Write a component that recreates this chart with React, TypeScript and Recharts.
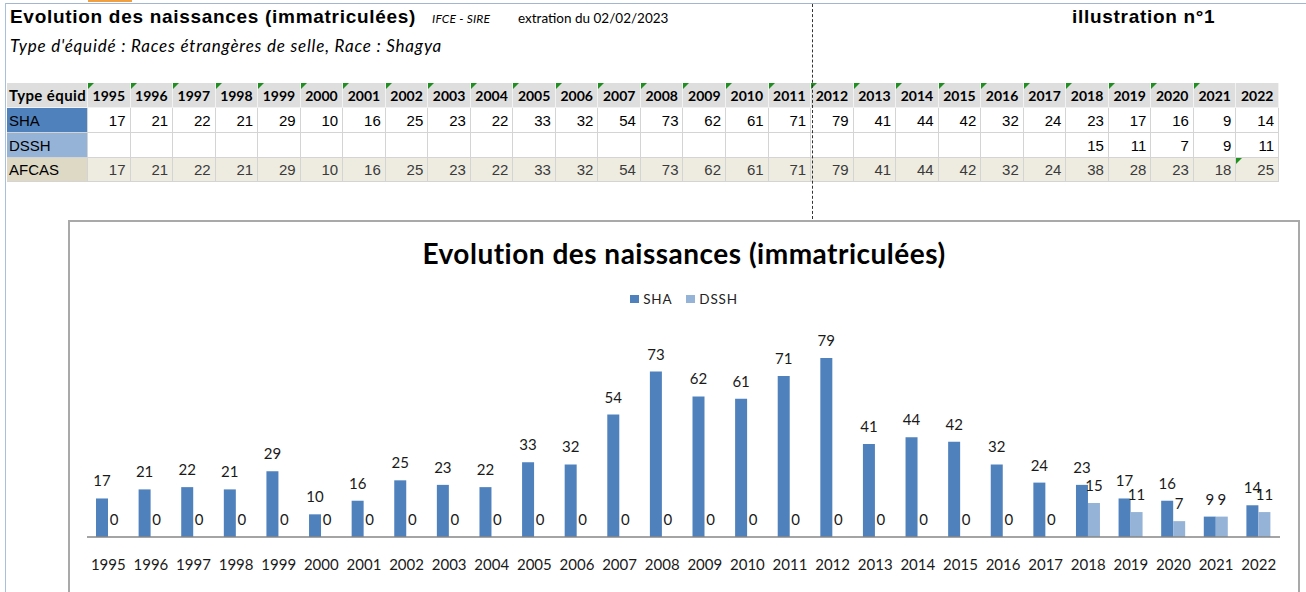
import React from "react";
import { BarChart, Bar, XAxis, YAxis, LabelList } from "recharts";

const years = [
  "1995", "1996", "1997", "1998", "1999", "2000", "2001", "2002", "2003", "2004",
  "2005", "2006", "2007", "2008", "2009", "2010", "2011", "2012", "2013", "2014",
  "2015", "2016", "2017", "2018", "2019", "2020", "2021", "2022",
];
const sha = [17, 21, 22, 21, 29, 10, 16, 25, 23, 22, 33, 32, 54, 73, 62, 61, 71, 79, 41, 44, 42, 32, 24, 23, 17, 16, 9, 14];
const dssh: (number | null)[] = [
  null, null, null, null, null, null, null, null, null, null, null, null, null, null,
  null, null, null, null, null, null, null, null, null, 15, 11, 7, 9, 11,
];
const afcas = [17, 21, 22, 21, 29, 10, 16, 25, 23, 22, 33, 32, 54, 73, 62, 61, 71, 79, 41, 44, 42, 32, 24, 38, 28, 23, 18, 25];

const SHA_COLOR = "#4f81bd";
const DSSH_COLOR = "#95b3d7";
const AFCAS_COLOR = "#ddd9c4";

// dans le graphique les cases vides de DSSH valent 0
const chartData = years.map((y, i) => ({ year: y, SHA: sha[i], DSSH: dssh[i] ?? 0 }));

const calibri = "Lato, 'Open Sans', sans-serif";
const arial = "'Liberation Sans', Arial, sans-serif";

const Flag = () => (
  <div
    style={{
      position: "absolute",
      left: 0,
      top: 0,
      width: 0,
      height: 0,
      borderTop: "6px solid #1f8f1f",
      borderRight: "6px solid transparent",
    }}
  />
);

const DataTable = () => {
  const rows = [
    { name: "SHA", bg: SHA_COLOR, values: sha as (number | null)[], cellBg: "#fff", color: "#000" },
    { name: "DSSH", bg: DSSH_COLOR, values: dssh, cellBg: "#fff", color: "#000" },
    { name: "AFCAS", bg: AFCAS_COLOR, values: afcas as (number | null)[], cellBg: "#eeece1", color: "#3a3a3a" },
  ];
  const grid = {
    display: "grid",
    gridTemplateColumns: "81px repeat(28, 1fr)",
  } as React.CSSProperties;
  const cell: React.CSSProperties = {
    position: "relative",
    boxSizing: "border-box",
    borderRight: "1px solid #d4d4d4",
    borderBottom: "1px solid #d4d4d4",
    display: "flex",
    alignItems: "center",
    overflow: "hidden",
    whiteSpace: "nowrap",
  };
  return (
    <div style={{ position: "absolute", left: 7, top: 83, width: 1272 }}>
      <div style={{ ...grid, height: 25, background: "#dedede" }}>
        <div style={{ ...cell, borderRight: "1px solid #f2f2f2", borderBottom: "1px solid #f2f2f2", fontFamily: calibri, fontWeight: 700, fontSize: 15, letterSpacing: 0.4, paddingLeft: 2 }}>
          Type équid
        </div>
        {years.map((y, i) => (
          <div
            key={y}
            style={{ ...cell, borderRight: "1px solid #f2f2f2", borderBottom: "1px solid #f2f2f2", justifyContent: "center", fontFamily: calibri, fontWeight: 700, fontSize: 14 }}
          >
            {i < years.length - 1 && <Flag />}
            {y}
          </div>
        ))}
      </div>
      {rows.map((r) => (
        <div key={r.name} style={{ ...grid, height: r.name === "AFCAS" ? 24 : 25 }}>
          <div style={{ ...cell, background: r.bg, fontFamily: arial, fontSize: 15, paddingLeft: 2, color: "#000" }}>
            {r.name}
          </div>
          {r.values.map((v, i) => (
            <div
              key={i}
              style={{ ...cell, background: r.cellBg, justifyContent: "flex-end", paddingRight: 4, fontFamily: arial, fontSize: 15, color: r.color }}
            >
              {r.name === "AFCAS" && i === r.values.length - 1 && <Flag />}
              {v ?? ""}
            </div>
          ))}
        </div>
      ))}
    </div>
  );
};

const legendItems = [
  { name: "SHA", color: SHA_COLOR },
  { name: "DSSH", color: DSSH_COLOR },
];

const labelStyle = { fill: "#1a1a1a", fontSize: 15, fontFamily: calibri };

export default function App() {
  return (
    <div
      style={{
        position: "fixed",
        left: 0,
        top: 0,
        width: 1306,
        height: 592,
        overflow: "hidden",
        background: "#fff",
      }}
    >
      {/* cadres de la feuille */}
      <div style={{ position: "absolute", left: 5, top: 3, right: 0, height: 1, background: "#a3b6cf" }} />
      <div style={{ position: "absolute", left: 88, top: 0, width: 44, height: 2, background: "#f0a040" }} />
      <div style={{ position: "absolute", left: 5, top: 3, width: 1, bottom: 0, background: "#a9c0dc" }} />

      <div style={{ position: "absolute", left: 10, top: 6, fontFamily: arial, fontWeight: 700, fontSize: 19, letterSpacing: 0.7, color: "#000" }}>
        Evolution des naissances (immatriculées)
      </div>
      <div style={{ position: "absolute", left: 432, top: 11, fontFamily: calibri, fontStyle: "italic", fontSize: 12, letterSpacing: 0.2, color: "#000" }}>
        IFCE - SIRE
      </div>
      <div style={{ position: "absolute", left: 518, top: 10, fontFamily: calibri, fontSize: 13.5, color: "#000" }}>
        extration du 02/02/2023
      </div>
      <div style={{ position: "absolute", left: 10, top: 35, fontFamily: calibri, fontStyle: "italic", fontSize: 17, letterSpacing: 0.8, color: "#000" }}>
        Type d'équidé : Races étrangères de selle, Race : Shagya
      </div>
      <div style={{ position: "absolute", left: 1072, top: 6, fontFamily: arial, fontWeight: 700, fontSize: 19, letterSpacing: 0.7, color: "#000" }}>
        illustration n°1
      </div>

      <DataTable />

      {/* saut de page */}
      <div style={{ position: "absolute", left: 812, top: 4, height: 215, borderLeft: "1px dashed #333" }} />

      {/* graphique */}
      <div
        style={{
          position: "absolute",
          left: 68,
          top: 220,
          width: 1232,
          height: 420,
          boxSizing: "border-box",
          border: "2px solid #a9a9a9",
          background: "#fff",
        }}
      >
        <div
          style={{
            position: "absolute",
            left: 0,
            right: 0,
            top: 14,
            textAlign: "center",
            fontFamily: calibri,
            fontWeight: 700,
            fontSize: 28,
            letterSpacing: 0.5,
            color: "#000",
          }}
        >
          Evolution des naissances (immatriculées)
        </div>
        <div
          style={{
            position: "absolute",
            left: 0,
            right: 0,
            top: 69,
            display: "flex",
            justifyContent: "center",
            gap: 14,
            fontFamily: calibri,
            fontSize: 13.5,
            letterSpacing: 0.8,
            color: "#222",
          }}
        >
          {legendItems.map((l) => (
            <div key={l.name} style={{ display: "flex", alignItems: "center", gap: 4 }}>
              <div style={{ width: 9, height: 8, background: l.color }} />
              <span>{l.name}</span>
            </div>
          ))}
        </div>
        <div style={{ position: "absolute", left: 0, top: 0 }}>
          <BarChart
            width={1228}
            height={370}
            data={chartData}
            margin={{ top: 111, right: 18, left: 17, bottom: 25 }}
            barGap={0}
            barSize={12}
          >
            <XAxis
              dataKey="year"
              interval={0}
              height={30}
              tickLine={false}
              tickSize={6}
              tickMargin={16}
              axisLine={{ stroke: "#868686", strokeWidth: 1.5 }}
              tick={{ fill: "#1a1a1a", fontSize: 15, fontFamily: calibri }}
            />
            <YAxis hide domain={[0, 90]} />
            <Bar dataKey="SHA" fill={SHA_COLOR} isAnimationActive={false}>
              <LabelList dataKey="SHA" position="top" offset={12} style={labelStyle} />
            </Bar>
            <Bar dataKey="DSSH" fill={DSSH_COLOR} minPointSize={0.01} isAnimationActive={false}>
              <LabelList dataKey="DSSH" position="top" offset={12} style={labelStyle} />
            </Bar>
          </BarChart>
        </div>
      </div>
    </div>
  );
}
